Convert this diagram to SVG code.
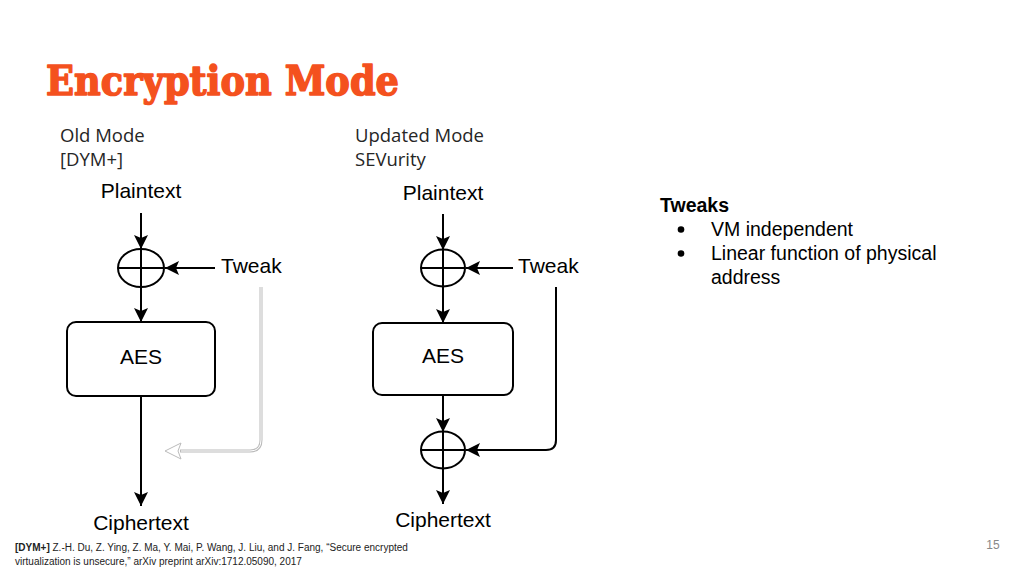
<svg xmlns="http://www.w3.org/2000/svg" width="1024" height="576" viewBox="0 0 1024 576">
<style>
.title{font-family:"DejaVu Serif",serif;font-weight:bold;font-size:41px;fill:#F4511E;stroke:#F4511E;stroke-width:1.6;stroke-linejoin:round}
.sub{font-family:"Open Sans",Lato,sans-serif;font-size:18.5px;fill:#262626}
.lbl{font-family:"Liberation Sans",Arial,sans-serif;font-size:21px;fill:#000}
.ln{stroke:#000;stroke-width:2;fill:none}
.box{stroke:#000;stroke-width:2;fill:#fff}
.tw{font-family:"Liberation Sans",Arial,sans-serif;font-size:19.5px;fill:#000}
.ft{font-family:"Liberation Sans",Arial,sans-serif;font-size:10px;fill:#222}
</style>
<defs>
<marker id="ah" markerUnits="userSpaceOnUse" markerWidth="16" markerHeight="16" viewBox="0 0 16 16" refX="15" refY="8" orient="auto">
<path d="M1,1 L15,8 L1,15 L4,8 z" fill="#000"/>
</marker>
</defs>
<rect width="1024" height="576" fill="#fff"/>
<text class="title" x="46" y="95" textLength="353" lengthAdjust="spacingAndGlyphs">Encryption Mode</text>
<text class="sub" x="60" y="142">Old Mode</text>
<text class="sub" x="60" y="166">[DYM+]</text>
<text class="sub" x="355" y="142">Updated Mode</text>
<text class="sub" x="355" y="166">SEVurity</text>

<g id="connectors">
<line class="ln" x1="141" y1="213" x2="141" y2="249" marker-end="url(#ah)"/>
<line class="ln" x1="215" y1="268" x2="165" y2="268" marker-end="url(#ah)"/>
<line class="ln" x1="141" y1="287" x2="141" y2="322" marker-end="url(#ah)"/>
<line class="ln" x1="141" y1="396" x2="141" y2="506" marker-end="url(#ah)"/>
<path d="M261,287 V440 Q261,451 250,451 H180" fill="none" stroke="#bbb" stroke-width="3"/>
<path d="M261,287 V440 Q261,451 250,451 H181" fill="none" stroke="#fff" stroke-width="1"/>
<path d="M165,451 L181,443 L178,451 L181,459 z" fill="#fff" stroke="#bbb" stroke-width="1"/>

<line class="ln" x1="443" y1="214" x2="443" y2="250" marker-end="url(#ah)"/>
<line class="ln" x1="513" y1="268" x2="466" y2="268" marker-end="url(#ah)"/>
<line class="ln" x1="443" y1="287" x2="443" y2="323" marker-end="url(#ah)"/>
<line class="ln" x1="443" y1="395" x2="443" y2="432" marker-end="url(#ah)"/>
<path class="ln" d="M556,287 V440 Q556,450 546,450 H466" marker-end="url(#ah)"/>
<line class="ln" x1="443" y1="468" x2="443" y2="504" marker-end="url(#ah)"/>
</g>

<g id="left-plaintext"><text class="lbl" x="141" y="198" text-anchor="middle" font-size="21.5">Plaintext</text></g>
<g id="left-xor"><ellipse class="box" cx="141" cy="268" rx="23" ry="19"/><line class="ln" x1="118" y1="268" x2="164" y2="268"/><line class="ln" x1="141" y1="249" x2="141" y2="287"/></g>
<g id="left-tweak"><text class="lbl" x="221" y="273">Tweak</text></g>
<g id="left-aes"><rect class="box" x="67" y="322" width="148" height="74" rx="9"/><text class="lbl" x="141" y="364" text-anchor="middle">AES</text></g>
<g id="left-ciphertext"><text class="lbl" x="141" y="530" text-anchor="middle" font-size="22">Ciphertext</text></g>

<g id="right-plaintext"><text class="lbl" x="443" y="200" text-anchor="middle" font-size="20.5">Plaintext</text></g>
<g id="right-xor1"><ellipse class="box" cx="443" cy="268" rx="22" ry="18.5"/><line class="ln" x1="421" y1="268" x2="465" y2="268"/><line class="ln" x1="443" y1="249.5" x2="443" y2="286.5"/></g>
<g id="right-tweak"><text class="lbl" x="518" y="273" font-size="20.5">Tweak</text></g>
<g id="right-aes"><rect class="box" x="373" y="323" width="140" height="72" rx="9"/><text class="lbl" x="443" y="363" text-anchor="middle" font-size="20.5">AES</text></g>
<g id="right-xor2"><ellipse class="box" cx="443" cy="450" rx="22" ry="18.5"/><line class="ln" x1="421" y1="450" x2="465" y2="450"/><line class="ln" x1="443" y1="431.5" x2="443" y2="468.5"/></g>
<g id="right-ciphertext"><text class="lbl" x="443" y="527" text-anchor="middle" font-size="20.5">Ciphertext</text></g>

<g id="tweaks-note">
<text class="tw" x="660" y="212" font-weight="bold">Tweaks</text>
<circle cx="681" cy="229.5" r="3.3" fill="#000"/>
<text class="tw" x="711" y="236">VM independent</text>
<circle cx="681" cy="253.5" r="3.3" fill="#000"/>
<text class="tw" x="711" y="260">Linear function of physical</text>
<text class="tw" x="711" y="284">address</text>
</g>

<text class="ft" x="15" y="551"><tspan font-weight="bold">[DYM+]</tspan> Z.-H. Du, Z. Ying, Z. Ma, Y. Mai, P. Wang, J. Liu, and J. Fang, “Secure encrypted</text>
<text class="ft" x="15" y="565">virtualization is unsecure,” arXiv preprint arXiv:1712.05090, 2017</text>
<text x="993" y="549" text-anchor="middle" font-family="Liberation Sans, Arial, sans-serif" font-size="12" fill="#888">15</text>
</svg>
